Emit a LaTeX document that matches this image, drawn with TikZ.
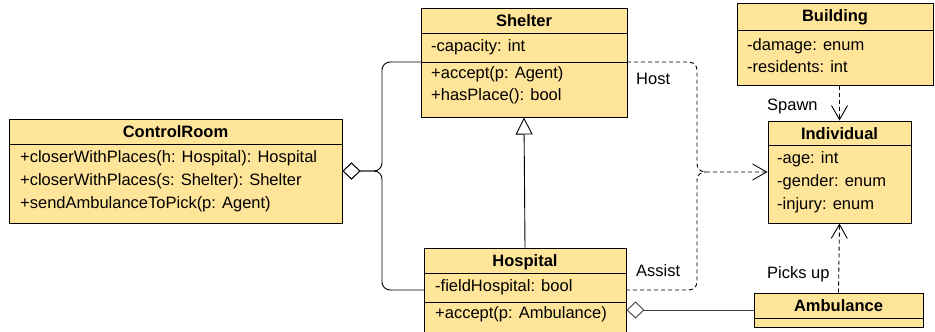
\documentclass[tikz,border=0pt]{standalone}
\usepackage{fontspec}
\setmainfont{Liberation Sans}
\usetikzlibrary{arrows.meta}
\definecolor{classfill}{HTML}{FFE599}

\begin{document}
\begin{tikzpicture}[x=1pt, y=-1pt,
    every node/.style={font=\fontsize{16.5}{22.8}\selectfont},
    classbox/.style={draw, fill=classfill, line width=1pt, inner sep=0pt},
    classname/.style={anchor=base, inner sep=0pt, font=\fontsize{16.5}{22.8}\selectfont\bfseries},
    members/.style={anchor=base west, inner sep=0pt},
    divider/.style={line width=1pt},
    agg/.style={{Diamond[open, fill=white, length=18pt, width=17pt]}-, line width=0.9pt},
    gen/.style={-{Triangle[open, fill=white, length=17pt, width=17pt]}, line width=0.9pt},
    dep/.style={-{Straight Barb[length=14pt, width=16pt]}, dash pattern=on 4pt off 3pt, line width=0.9pt},
    lbl/.style={anchor=base west, inner sep=0pt}]
  \useasboundingbox (0,0) rectangle (935,332);

  % ControlRoom
  \node[classbox, minimum width=333pt, minimum height=104pt] (ctrl) at (175.5,171) {};
  \coordinate (ctrlDW) at (9,144);
  \coordinate (ctrlDE) at (342,144);
  \draw[divider] (ctrlDW) -- (ctrlDE);
  \node[classname] (ctrlH) at (175.5,137.5) {ControlRoom};
  \foreach \t [count=\i] in {{+closerWithPlaces(h: Hospital): Hospital},{+closerWithPlaces(s: Shelter): Shelter},{+sendAmbulanceToPick(p: Agent)}} {
    \pgfmathsetmacro{\ya}{162.5+22.8*(\i-1)}
    \node[members] (ctrlM\i) at (20,\ya) {\t};
  }

  % Shelter
  \node[classbox, minimum width=206pt, minimum height=109pt] (shelter) at (524,62.5) {};
  \coordinate (shelterHW) at (421,33);
  \coordinate (shelterHE) at (627,33);
  \coordinate (shelterDW) at (421,62);
  \coordinate (shelterDE) at (627,62);
  \draw[divider] (shelterHW) -- (shelterHE);
  \draw[divider] (shelterDW) -- (shelterDE);
  \node[classname] (shelterH) at (524,26.5) {Shelter};
  \node[members] (shelterA) at (431,51.5) {-capacity: int};
  \foreach \t [count=\i] in {{+accept(p: Agent)},{+hasPlace(): bool}} {
    \pgfmathsetmacro{\ya}{78+22.8*(\i-1)}
    \node[members] (shelterM\i) at (431,\ya) {\t};
  }

  % Hospital
  \node[classbox, minimum width=202pt, minimum height=88pt] (hosp) at (525,292) {};
  \coordinate (hospHW) at (424,273);
  \coordinate (hospHE) at (626,273);
  \coordinate (hospDW) at (424,302);
  \coordinate (hospDE) at (626,302);
  \draw[divider] (hospHW) -- (hospHE);
  \draw[divider] (hospDW) -- (hospDE);
  \node[classname] (hospH) at (525,266.5) {Hospital};
  \node[members] (hospA) at (435,291.5) {-fieldHospital: bool};
  \node[members] (hospM) at (435,318) {+accept(p: Ambulance)};
  \coordinate (hospLW) at (424,290);
  \coordinate (hospRE) at (626,290);

  % Building
  \node[classbox, minimum width=196pt, minimum height=82pt] (build) at (835,44) {};
  \coordinate (buildHW) at (737,30);
  \coordinate (buildHE) at (933,30);
  \draw[divider] (buildHW) -- (buildHE);
  \node[classname] (buildH) at (835,21.5) {Building};
  \foreach \t [count=\i] in {{-damage: enum},{-residents: int}} {
    \pgfmathsetmacro{\ya}{50+22.8*(\i-1)}
    \node[members] (buildA\i) at (747,\ya) {\t};
  }

  % Individual
  \node[classbox, minimum width=143pt, minimum height=102pt] (indiv) at (839.5,172) {};
  \coordinate (indivHW) at (768,145);
  \coordinate (indivHE) at (911,145);
  \draw[divider] (indivHW) -- (indivHE);
  \node[classname] (indivH) at (839.5,139.5) {Individual};
  \foreach \t [count=\i] in {{-age: int},{-gender: enum},{-injury: enum}} {
    \pgfmathsetmacro{\ya}{163.5+22.8*(\i-1)}
    \node[members] (indivA\i) at (777,\ya) {\t};
  }

  % Ambulance
  \node[classbox, minimum width=169pt, minimum height=34pt] (ambu) at (838.5,310) {};
  \coordinate (ambuHW) at (754,318);
  \coordinate (ambuHE) at (923,318);
  \draw[divider] (ambuHW) -- (ambuHE);
  \node[classname] (ambuH) at (838.5,311.5) {Ambulance};

  % aggregation and inheritance
  \coordinate (ctrlJ) at (382,171);
  \draw[agg, rounded corners=8pt] (ctrl.east) -- (ctrlJ) |- (shelterDW);
  \draw[agg, rounded corners=8pt] (ctrl.east) -- (ctrlJ) |- (hospLW);
  \draw[gen] (hosp.north) -- (shelter.south);
  \draw[agg, draw=black!75] (hosp.east |- ambu.west) -- (ambu.west);

  % dependencies
  \coordinate (hostJ) at (697,172);
  \coordinate (hostK) at (706,172);
  \draw[dep, rounded corners=8pt] (shelterDE) -| (hostJ) -- (indiv.west);
  \draw[dep, -, rounded corners=8pt] (hospRE) -| (hostJ) -- (hostK);
  \draw[dep] (indiv.north |- build.south) -- (indiv.north);
  \draw[dep] (ambu.north) -- (indiv.south);

  % labels
  \node[lbl] (hostL) at (636,84) {Host};
  \node[lbl] (assistL) at (636,276) {Assist};
  \node[lbl] (spawnL) at (767,110.5) {Spawn};
  \node[lbl] (picksL) at (767,278) {Picks up};
\end{tikzpicture}
\end{document}
